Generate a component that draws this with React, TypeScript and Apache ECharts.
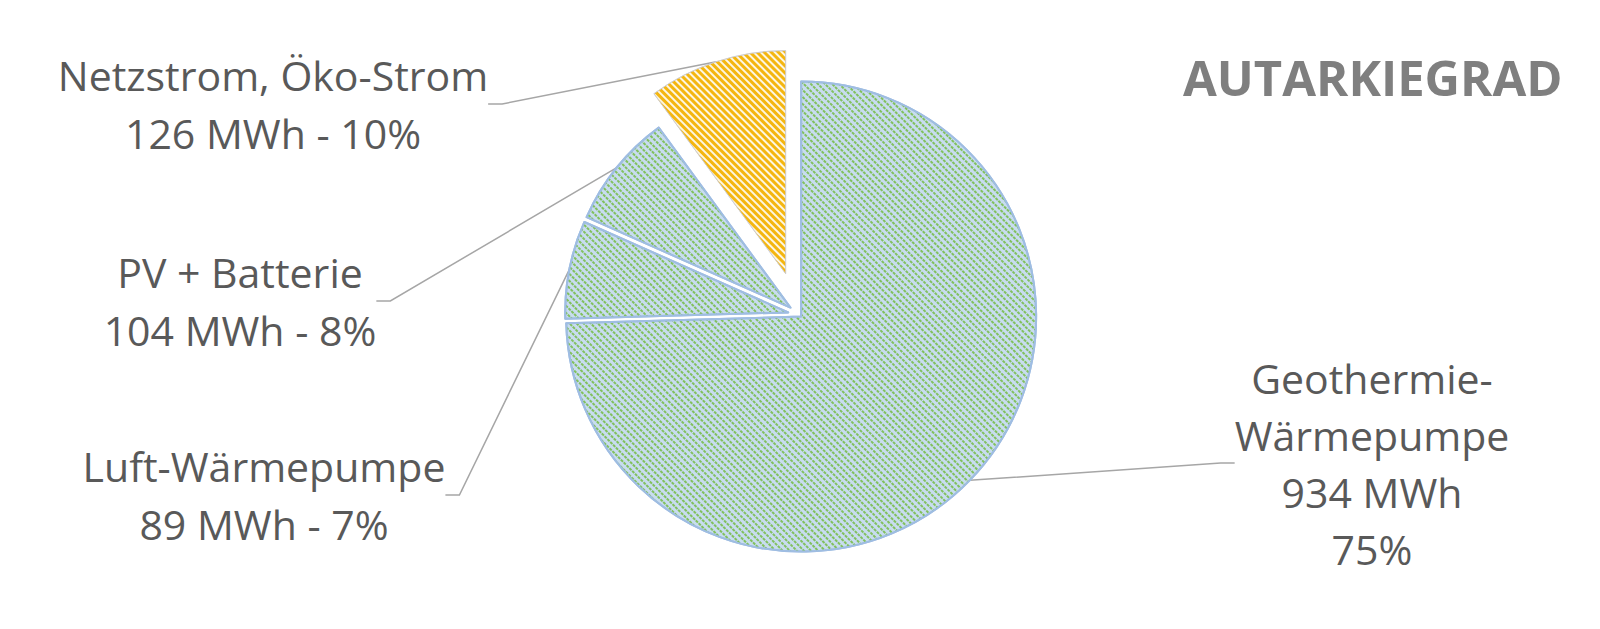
import React, { useEffect, useRef } from 'react';
import * as echarts from 'echarts';

// energy sources, in the order Excel draws them (clockwise from 12 o'clock)
const categories = ['Geothermie-Wärmepumpe', 'Luft-Wärmepumpe', 'PV + Batterie', 'Netzstrom, Öko-Strom'];
const valuesMWh = [934, 89, 104, 126];

// how far each slice is pulled out of the pie (px) and its radius
const explodePx = [3, 11, 11, 43];
const sliceRadius = [235, 223, 223, 223];

// label centres in px
const labelCenters = [
  [1372, 463],
  [264, 495],
  [240, 301],
  [273, 104],
];

const PIE_CENTER = [799, 314.5];

const greenSlice = {
  color: '#c8dcf0',
  borderColor: '#9fbde2',
  borderWidth: 2,
  decal: {
    symbol: 'rect',
    symbolSize: 1,
    color: 'rgba(122, 190, 78, 0.9)',
    dashArrayX: [2.5, 1],
    dashArrayY: [1.4, 2.8],
    rotation: Math.PI / 4,
  },
};

const yellowSlice = {
  color: '#fdf6e2',
  borderColor: 'rgba(205, 205, 210, 0.8)',
  borderWidth: 1,
  decal: {
    symbol: 'rect',
    symbolSize: 1,
    color: '#f4b610',
    dashArrayX: [1, 0],
    dashArrayY: [2.2, 2.0],
    rotation: Math.PI / 4,
  },
};

const labelText = {
  color: '#595959',
  fontFamily: 'Open Sans',
  fontSize: 41,
  lineHeight: 58,
  align: 'center' as const,
};

const formatLabel = (p: any) => {
  if (p.dataIndex === 0) {
    return p.name.replace('-', '-\n') + '\n' + p.value + ' MWh\n' + p.percent + '%';
  }
  return p.name + '\n' + p.value + ' MWh - ' + p.percent + '%';
};

// mid angle of every slice, clockwise from 12 o'clock (used to explode it)
const total = valuesMWh.reduce((a, b) => a + b, 0);
const midAngles: number[] = [];
valuesMWh.reduce((acc, v) => {
  midAngles.push(((acc + v / 2) / total) * Math.PI * 2);
  return acc + v;
}, 0);

// one pie per slice so every slice can have its own explode distance
const makeSeries = (slice: number) => {
  const a = midAngles[slice];
  const off = explodePx[slice];
  return {
    type: 'pie',
    center: [PIE_CENTER[0] + off * Math.sin(a), PIE_CENTER[1] - off * Math.cos(a)],
    radius: sliceRadius[slice],
    startAngle: 90,
    clockwise: true,
    percentPrecision: 0,
    avoidLabelOverlap: false,
    silent: true,
    emphasis: { disabled: true },
    label: { ...labelText, formatter: formatLabel },
    labelLayout: (params: any) => {
      const c = labelCenters[params.dataIndex];
      return { x: c[0], y: c[1], align: 'center', verticalAlign: 'middle' };
    },
    data: categories.map((name, i) => {
      const mine = i === slice;
      return {
        name,
        value: valuesMWh[i],
        itemStyle: mine ? (i === 3 ? yellowSlice : greenSlice) : { color: 'transparent', borderWidth: 0 },
        label: { show: mine, lineHeight: i === 0 ? 57 : 58 },
        labelLine: {
          show: mine,
          length2: 14,
          lineStyle: { color: '#a6a6a6', width: 1.5 },
        },
      };
    }),
  };
};

export default function App() {
  const chartRef = useRef<HTMLDivElement>(null);

  useEffect(() => {
    if (!chartRef.current) return;
    const chart = echarts.init(chartRef.current, null, { renderer: 'svg' });

    chart.setOption({
      animation: false,
      backgroundColor: '#ffffff',
      title: {
        text: 'AUTARKIEGRAD',
        left: 1178,
        top: 47,
        textStyle: {
          fontFamily: 'Open Sans',
          fontWeight: 'bold',
          fontSize: 49,
          color: '#7f7f7f',
        },
      },
      series: categories.map((_, i) => makeSeries(i)),
    });

    const handleResize = () => chart.resize();
    window.addEventListener('resize', handleResize);
    return () => {
      window.removeEventListener('resize', handleResize);
      chart.dispose();
    };
  }, []);

  return (
    <div
      ref={chartRef}
      style={{ position: 'fixed', left: 0, top: 0, width: '100vw', height: '100vh' }}
    />
  );
}
